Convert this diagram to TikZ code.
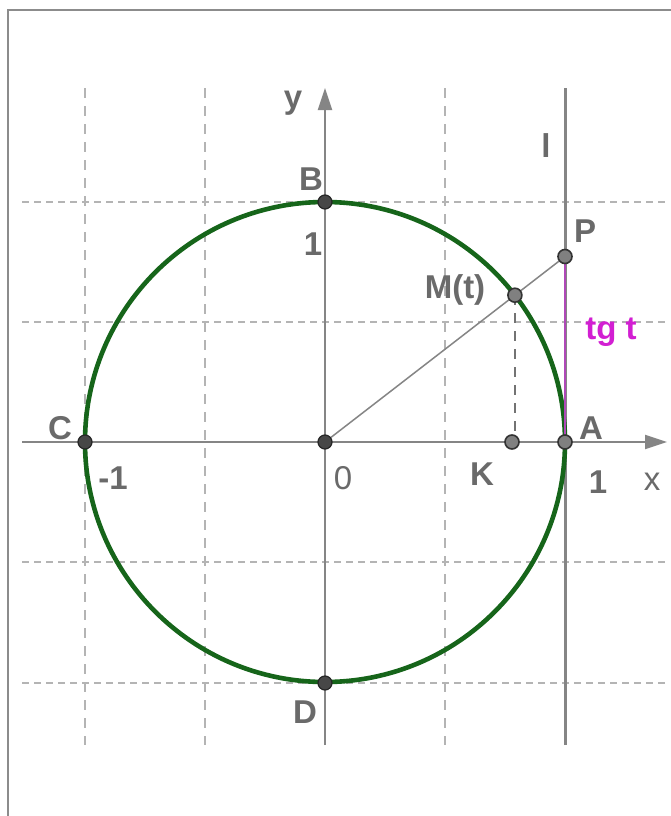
\documentclass[tikz,border=0pt]{standalone}
\usepackage{fontspec}
\setmainfont{Liberation Sans}
\usetikzlibrary{arrows.meta}
\definecolor{axisgray}{HTML}{858585}
\definecolor{gridgray}{HTML}{B4B4B4}
\definecolor{txtgray}{HTML}{6A6A6A}
\definecolor{circgreen}{HTML}{16651A}
\definecolor{tgmag}{HTML}{D21FD2}
\definecolor{segmag}{HTML}{B048B8}
\begin{document}
\begin{tikzpicture}[x=1pt,y=-1pt,
  hgrid/.style={draw=gridgray, line width=1.5pt, dash pattern=on 7pt off 5pt},
  vgrid/.style={draw=gridgray, line width=1.5pt, dash pattern=on 10pt off 8pt},
  axisline/.style={draw=axisgray, line width=2.2pt},
  darkpt/.style={circle, fill=black!72, draw=black!85, line width=1.2pt, minimum size=14pt, inner sep=0pt},
  lightpt/.style={circle, fill=black!50, draw=black!80, line width=1.6pt, minimum size=14pt, inner sep=0pt},
  lbl/.style={text=txtgray, font=\bfseries\fontsize{33}{33}\selectfont, inner sep=0pt}]
\useasboundingbox (0,0) rectangle (670,816);
\fill[white] (0,0) rectangle (670,816);
% frame
\draw[draw=black!45, line width=2.2pt] (8,830) -- (8,10) -- (690,10);
% grid
\foreach \yy in {202,322,562,683} \draw[hgrid] (22,\yy) -- (665,\yy);
\foreach \xx in {85,205,445} \draw[vgrid] (\xx,88) -- (\xx,745);
% named coordinates
\coordinate (xs) at (22,442);
\coordinate (xe) at (667,442);
\coordinate (ys) at (325,745);
\coordinate (ye) at (325,88);
\coordinate (ls) at (565,745);
\coordinate (le) at (565,88);
% axes
\draw[axisline, -{Triangle[length=22pt,width=14pt]}] (xs) -- (xe);
\draw[axisline, -{Triangle[length=22pt,width=14pt]}] (ys) -- (ye);
\draw[draw=axisgray, line width=3pt] (ls) -- (le);
% circle
\draw[circgreen, line width=4.6pt] (325,442) circle[radius=240];
% points
\coordinate (Oc) at (325,442);
\coordinate (Mc) at (514.9,295.2);
\coordinate (Pc) at (565,256.5);
\draw[draw=axisgray, line width=1.5pt] (Oc) -- (Pc);
\draw[draw=segmag, line width=2.6pt] (565,442) -- (Pc);
\draw[draw=black!55, line width=1.6pt, dash pattern=on 10pt off 8pt] (Mc) -- (514.9,442);
\node[darkpt] (O) at (Oc) {};
\node[darkpt] (B) at (325,202) {};
\node[darkpt] (C) at (85,442) {};
\node[darkpt] (D) at (325,683) {};
\node[lightpt] (A) at (565,442) {};
\node[lightpt] (K) at (512,442) {};
\node[lightpt] (M) at (Mc) {};
\node[lightpt] (P) at (Pc) {};
% labels
\node[lbl] at (293,103) {y};
\node[lbl] at (311,179) {B};
\node[lbl] at (313,244) {1};
\node[lbl] at (585,231) {P};
\node[lbl] at (546,146) {l};
\node[lbl] at (455,290) {M(t)};
\node[lbl, text=tgmag] at (611,332) {tg t};
\node[lbl] at (60,428) {C};
\node[lbl] at (113,478) {-1};
\node[lbl, font=\fontsize{33}{33}\selectfont] at (343,478) {0};
\node[lbl] at (482,474) {K};
\node[lbl] at (591,428) {A};
\node[lbl] at (598,482) {1};
\node[lbl, font=\fontsize{33}{33}\selectfont] at (652,482) {x};
\node[lbl] at (305,712) {D};
\end{tikzpicture}
\end{document}
